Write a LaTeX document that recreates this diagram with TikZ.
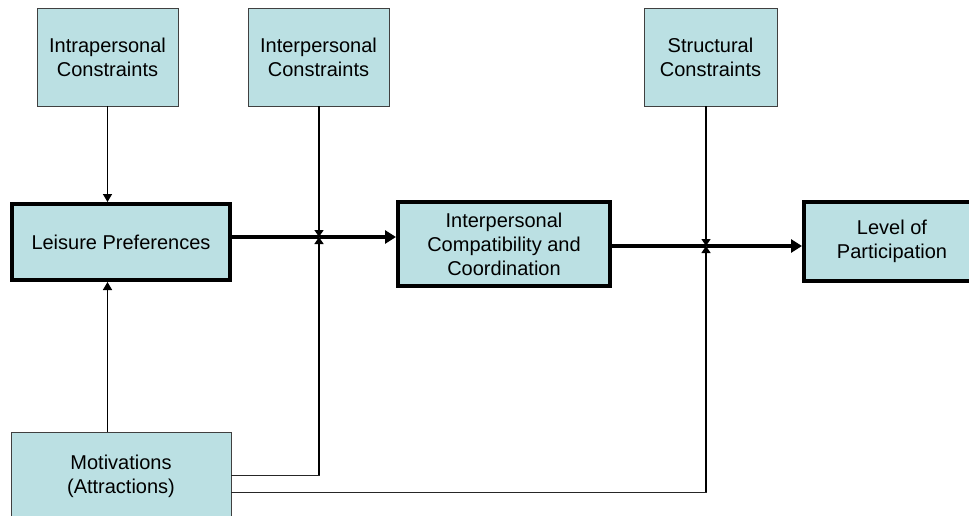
\documentclass[tikz,border=0pt]{standalone}
\usepackage{fontspec}
\setmainfont{Liberation Sans}
\usetikzlibrary{arrows.meta}
\definecolor{boxfill}{RGB}{187,224,227}
\tikzset{
  thinbox/.style={draw=black!75, line width=0.8pt, fill=boxfill, align=center, inner sep=0pt,
    font=\fontsize{20}{24}\selectfont},
  thickbox/.style={draw=black, line width=4pt, fill=boxfill, align=center, inner sep=0pt,
    font=\fontsize{20}{24}\selectfont},
  feedarrow/.style={line width=1.5pt, -{Triangle[width=9pt,length=8pt]}},
  juncarrow/.style={line width=1.3pt, -{Triangle[width=9pt,length=7pt]}},
  mainarrow/.style={line width=4pt, -{Triangle[width=13pt,length=11pt]}},
  feedline/.style={line width=1pt, draw=black!85},
}
\begin{document}
\begin{tikzpicture}[x=1pt,y=-1pt]
\useasboundingbox (0,0) rectangle (969,516);
\clip (0,0) rectangle (969,516);
% top constraint boxes
\node[thinbox, minimum width=141pt, minimum height=98pt] (intra) at (107.5,57) {Intrapersonal\\Constraints};
\node[thinbox, minimum width=141pt, minimum height=98pt] (inter) at (318.5,57) {Interpersonal\\Constraints};
\node[thinbox, minimum width=133pt, minimum height=98pt] (struct) at (710.5,57) {Structural\\Constraints};
% main boxes
\node[thickbox, minimum width=218pt, minimum height=76pt] (lp) at (121,242) {Leisure Preferences};
\node[thickbox, minimum width=212pt, minimum height=84pt] (cc) at (504,244) {Interpersonal\\Compatibility and\\Coordination};
\node[thickbox, minimum width=176pt, minimum height=79pt] (lv) at (892,241.5) {Level of\\Participation};
% motivations
\node[thinbox, minimum width=220pt, minimum height=88pt] (mot) at (121,476) {Motivations\\(Attractions)};
% junctions
\coordinate (j1) at (319,237);
\coordinate (j2) at (706,246);
% connectors
\draw[feedarrow] (intra.south) -- (intra.south |- lp.north);
\draw[feedarrow] (intra.south |- mot.north) -- (intra.south |- lp.south);
\draw[mainarrow] (lp.east |- j1) -- (cc.west |- j1);
\draw[mainarrow] (cc.east |- j2) -- (lv.west |- j2);
\draw[juncarrow] (j1 |- inter.south) -- (j1);
\draw[juncarrow] (j2 |- struct.south) -- (j2);
\draw[feedline] ([yshift=1pt]mot.east) -| (j1);
\draw[juncarrow] ([yshift=1pt]mot.east -| j1) -- (j1);
\draw[feedline] ([yshift=-16pt]mot.east) -| (j2);
\draw[juncarrow] ([yshift=-16pt]mot.east -| j2) -- (j2);
\end{tikzpicture}
\end{document}
